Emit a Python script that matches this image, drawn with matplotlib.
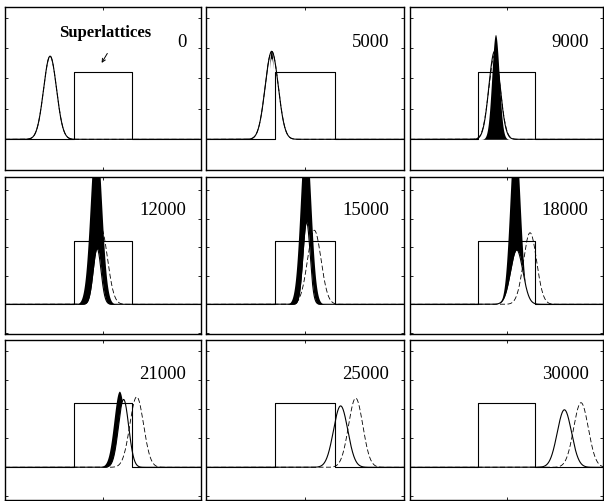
import numpy as np
import matplotlib.pyplot as plt

plt.rcParams['font.family'] = ['Liberation Serif', 'DejaVu Serif']

# time step shown in each panel
steps = ["0", "5000", "9000", "12000", "15000", "18000", "21000", "25000", "30000"]

# packet travelling through the superlattice: centre, width, peak
solid_c = [23.0, 33.2, 43.8, 47.0, 50.8, 55.3, 60.5, 68.0, 80.0]
solid_w = [3.3, 3.3, 2.9, 2.0, 1.8, 3.2, 2.6, 3.6, 3.7]
solid_h = [1.23, 1.30, 1.30, 0.88, 1.30, 0.86, 1.05, 0.95, 0.89]

# free packet (dashed)
free_c = [23.0, 33.2, 43.8, 49.0, 54.7, 62.2, 67.2, 75.6, 88.6]
free_w = [3.3, 3.3, 3.0, 3.3, 3.4, 3.4, 3.5, 3.6, 3.8]
free_h = [1.23, 1.30, 1.24, 1.20, 1.17, 1.13, 1.09, 1.07, 1.00]

# fast oscillations: upper and lower envelope, filled black in between
osc_hi_c = [0.0, 33.0, 44.3, 46.4, 50.3, 54.4, 58.6, 0.0, 0.0]
osc_hi_w = [1.0, 1.4, 1.9, 2.8, 2.6, 2.6, 2.8, 1.0, 1.0]
osc_hi_h = [0.0, 1.32, 1.55, 2.70, 2.70, 2.70, 1.17, 0.0, 0.0]
osc_lo_c = [0.0, 33.0, 44.3, 47.0, 50.8, 55.3, 60.5, 0.0, 0.0]
osc_lo_w = [1.0, 1.8, 1.0, 2.0, 1.8, 3.2, 2.6, 1.0, 1.0]
osc_lo_h = [0.0, 1.20, 0.0, 0.88, 1.30, 0.86, 1.05, 0.0, 0.0]

# superlattice region (potential step)
barrier_x = [0, 35, 35, 65, 65, 100]
barrier_y = [0, 0, 1, 1, 0, 0]

# panel placement in pixels: left/right per column, top/bottom per row
W, H = 604, 501
col_lr = [(5, 201), (206, 404), (410, 603)]
row_tb = [(7, 170), (177, 334), (340, 500)]
row_ylim = [(-0.454, 1.957), (-0.469, 2.011), (-0.506, 1.970)]

x = np.linspace(0, 100, 3000)


def packet(c, w, h):
    return h * np.exp(-(x - c) ** 2 / (2 * w ** 2))


fig = plt.figure(figsize=(W / 100, H / 100), dpi=100)

for i in range(9):
    r, k = divmod(i, 3)
    l, rr = col_lr[k]
    t, b = row_tb[r]
    ax = fig.add_axes([l / W, (H - b) / H, (rr - l) / W, (b - t) / H])
    ax.set_xlim(0, 100)
    ax.set_ylim(*row_ylim[r])

    ax.plot(barrier_x, barrier_y, color='black', lw=0.8)

    hi = packet(osc_hi_c[i], osc_hi_w[i], osc_hi_h[i])
    lo = packet(osc_lo_c[i], osc_lo_w[i], osc_lo_h[i])
    if osc_hi_h[i] > 0:
        ax.fill_between(x, lo, hi, where=hi > lo, color='black', lw=0)

    ax.plot(x, packet(free_c[i], free_w[i], free_h[i]), color='black',
            lw=0.6, ls=(0, (6, 3)))
    ax.plot(x, packet(solid_c[i], solid_w[i], solid_h[i]), color='black', lw=0.8)

    ax.text(0.925, 0.755, steps[i], transform=ax.transAxes, ha='right',
            va='baseline', fontsize=13.5)

    ax.set_xticks([50])
    ax.set_yticks([-0.45, 0, 0.45, 0.9, 1.35, 1.8])
    ax.tick_params(direction='in', length=2.5, width=0.6, top=True, right=True,
                   labelbottom=False, labelleft=False)
    for s in ax.spines.values():
        s.set_linewidth(1.0)

    if i == 0:
        ax.text(51, 1.51, "Superlattices", ha='center', va='baseline',
                fontsize=12, fontweight='bold')
        ax.annotate("", xy=(49.3, 1.13), xytext=(52.2, 1.27),
                    arrowprops=dict(arrowstyle='->', lw=0.7, color='black',
                                    shrinkA=0, shrinkB=0, mutation_scale=6))

fig.savefig("out.png", dpi=100)
